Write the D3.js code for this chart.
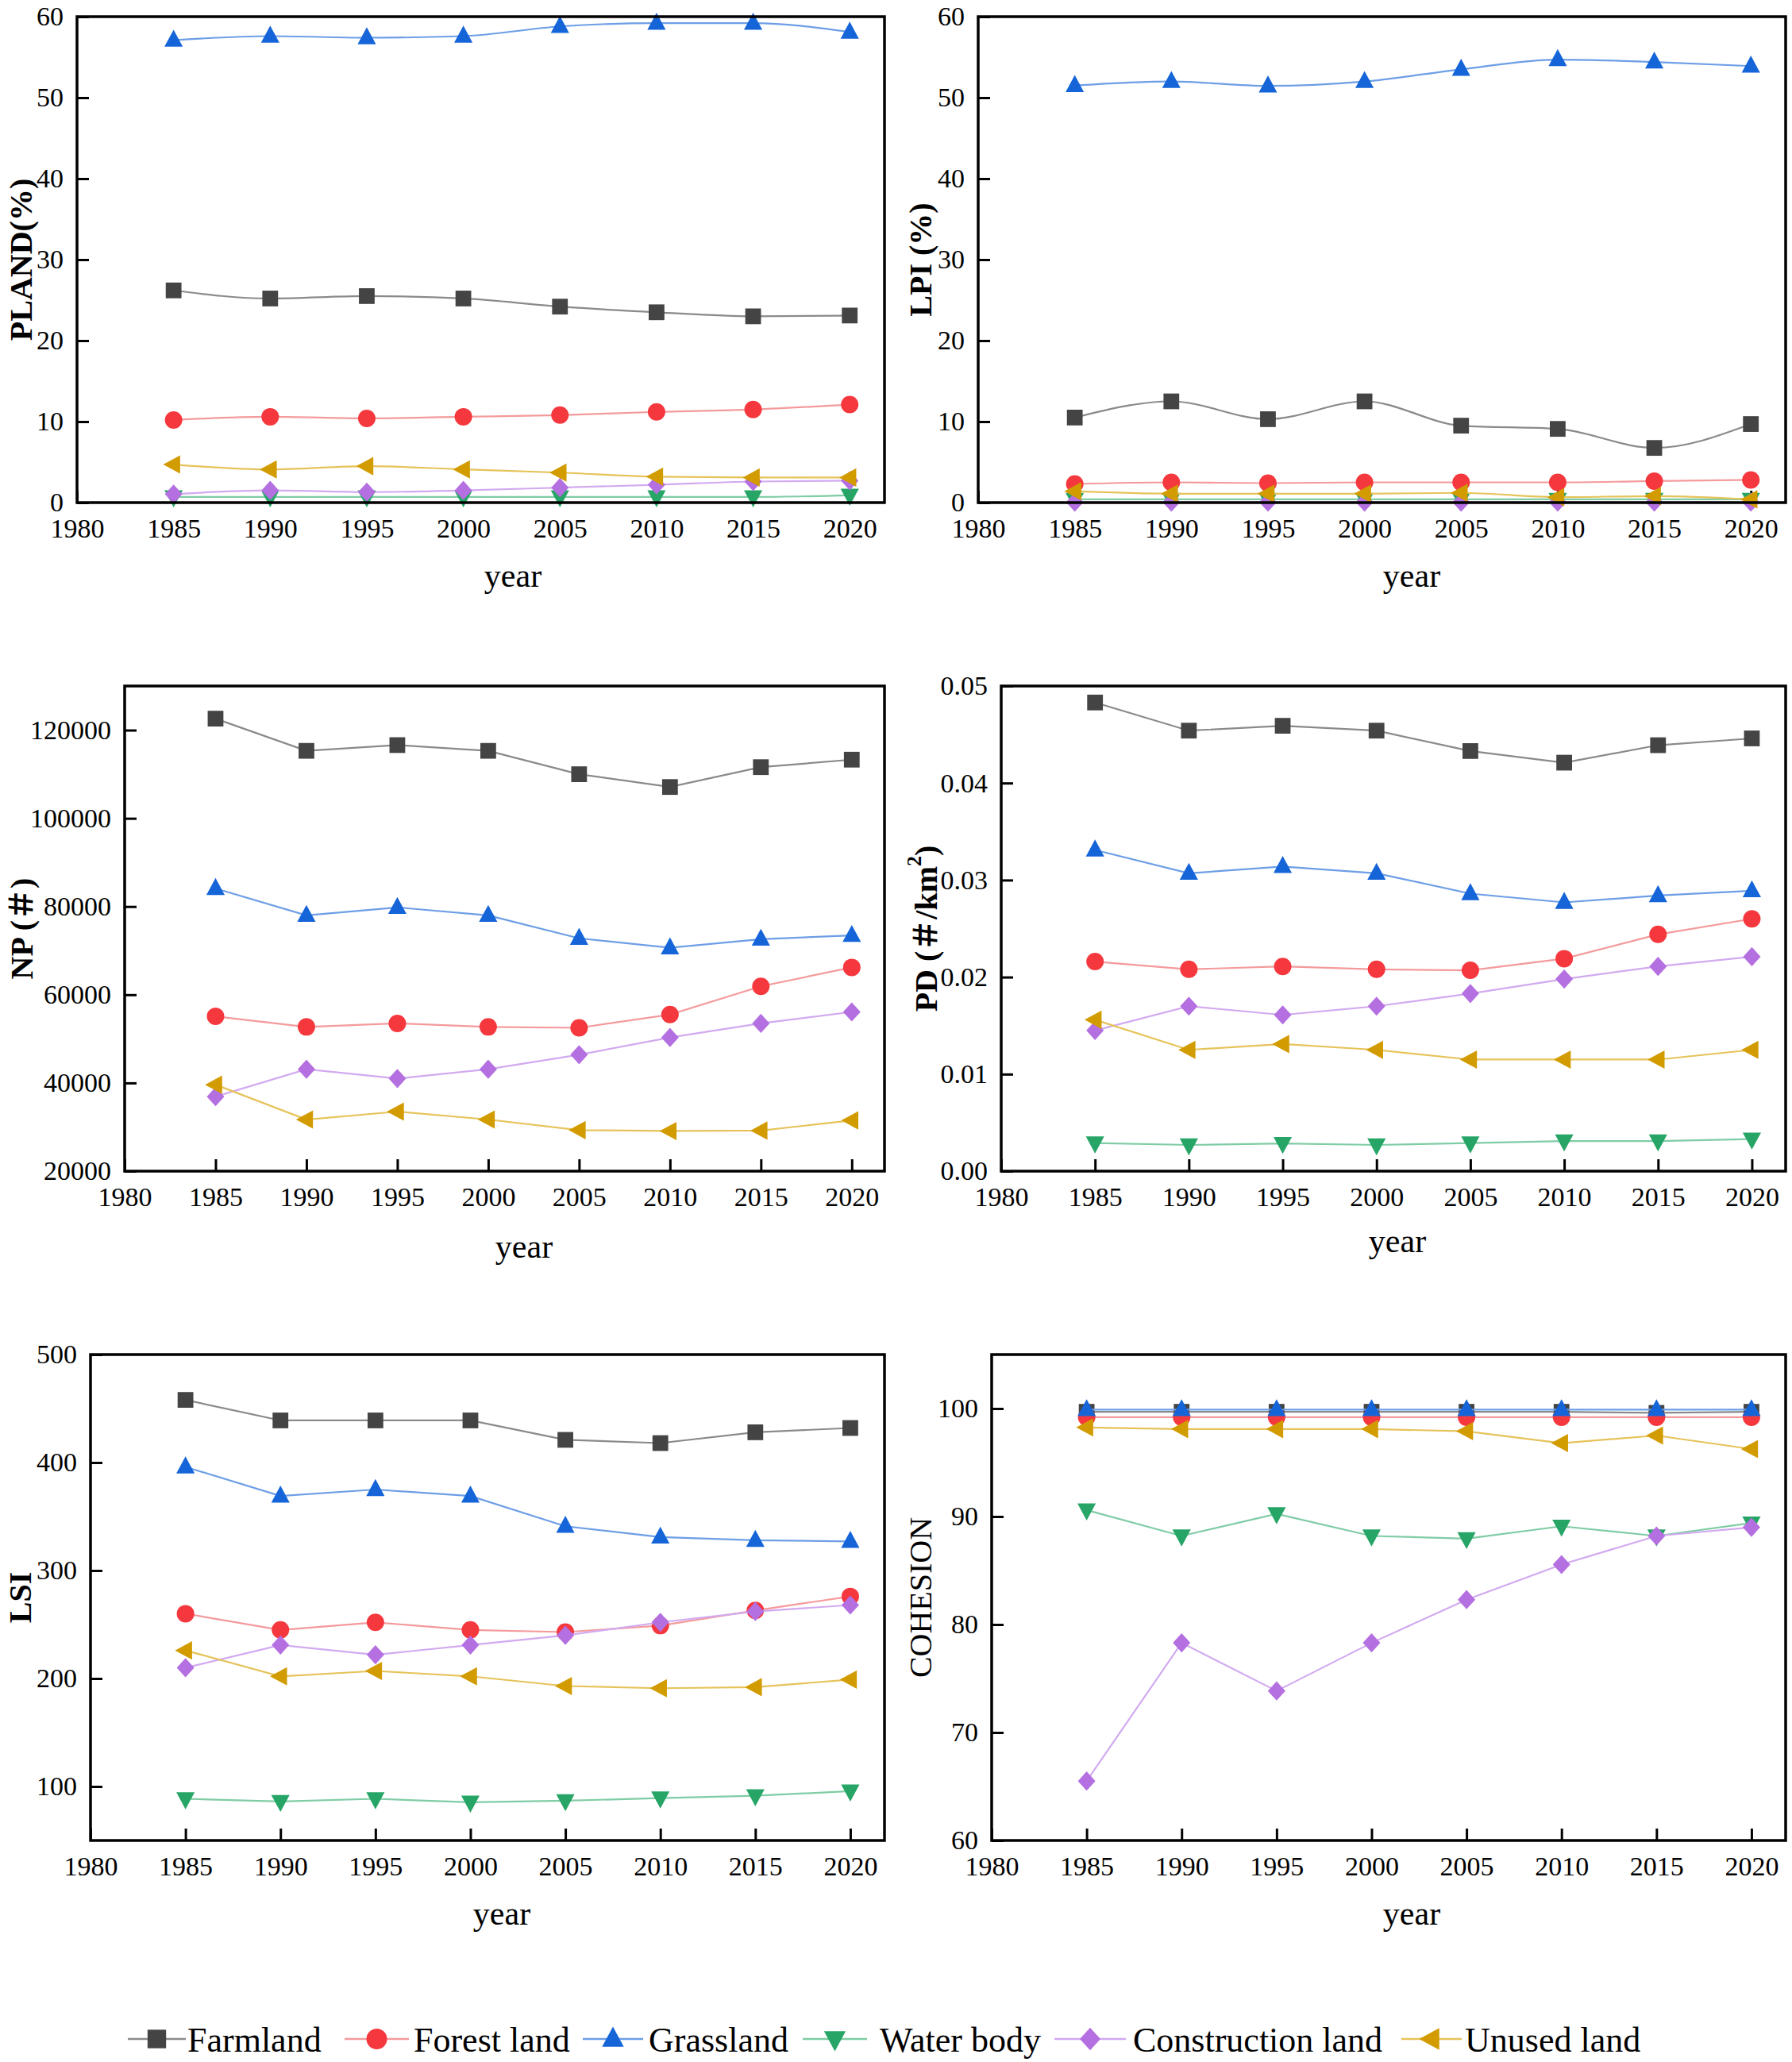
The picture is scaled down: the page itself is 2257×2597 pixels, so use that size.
<!DOCTYPE html>
<html lang="en">
<head>
<meta charset="utf-8">
<script src="https://d3js.org/d3.v7.min.js"></script>
<style>
  body { margin: 0; background: #fff; }
</style>
</head>
<body>
<div id="plot"></div>
<script>
// ---- data ----
const years = [1985, 1990, 1995, 2000, 2005, 2010, 2015, 2020];
const xTickValues = [1980, 1985, 1990, 1995, 2000, 2005, 2010, 2015, 2020];
const landTypes = ["Farmland", "Forest land", "Grassland", "Water body", "Construction land", "Unused land"];

// one row per land type, same order as landTypes (null = not shown)
const plandValues = [
  [26.2, 25.2, 25.5, 25.2, 24.2, 23.5, 23.0, 23.1],
  [10.2, 10.6, 10.4, 10.6, 10.8, 11.2, 11.5, 12.1],
  [57.1, 57.6, 57.4, 57.6, 58.8, 59.2, 59.2, 58.1],
  [0.7, 0.7, 0.7, 0.7, 0.7, 0.7, 0.7, 0.9],
  [1.05, 1.5, 1.3, 1.5, 1.85, 2.2, 2.6, 2.7],
  [4.7, 4.1, 4.5, 4.1, 3.7, 3.2, 3.1, 3.1]
];
const lpiValues = [
  [10.5, 12.5, 10.3, 12.5, 9.5, 9.1, 6.75, 9.7],
  [2.3, 2.5, 2.4, 2.5, 2.5, 2.5, 2.65, 2.8],
  [51.5, 52.0, 51.45, 52.0, 53.5, 54.7, 54.4, 53.9],
  [0.4, 0.4, 0.4, 0.4, 0.4, 0.4, 0.4, 0.4],
  [0.05, 0.05, 0.05, 0.05, 0.05, 0.05, 0.05, 0.05],
  [1.4, 1.1, 1.1, 1.1, 1.2, 0.67, 0.8, 0.4]
];
const npValues = [
  [122600, 115300, 116600, 115300, 110000, 107100, 111600, 113300],
  [55100, 52700, 53500, 52700, 52500, 55500, 61900, 66200],
  [84100, 78000, 79800, 78000, 72800, 70650, 72600, 73450],
  null,
  [36900, 43100, 41000, 43100, 46400, 50300, 53500, 56100],
  [39600, 31700, 33500, 31700, 29300, 29100, 29200, 31500]
];
const pdValues = [
  [0.0483, 0.0454, 0.0459, 0.0454, 0.0433, 0.0421, 0.0439, 0.0446],
  [0.0216, 0.0208, 0.0211, 0.0208, 0.0207, 0.0219, 0.0244, 0.0260],
  [0.0331, 0.0307, 0.0314, 0.0307, 0.0286, 0.0277, 0.0284, 0.0289],
  [0.0029, 0.0027, 0.00285, 0.0027, 0.0029, 0.0031, 0.0031, 0.0033],
  [0.0145, 0.0170, 0.0161, 0.0170, 0.0183, 0.0198, 0.0211, 0.0221],
  [0.0156, 0.0125, 0.0131, 0.0125, 0.0115, 0.0115, 0.0115, 0.0125]
];
const lsiValues = [
  [458, 439, 439, 439, 421, 418, 428, 432],
  [260, 245, 252, 245, 243, 249, 263, 276],
  [396, 369, 375, 369, 341, 331, 328, 327],
  [88.6, 86.1, 88.6, 85.4, 86.8, 89.3, 91.4, 95.7],
  [210, 231, 222, 231, 240, 252, 262, 268],
  [226, 202, 207, 202, 193, 191, 192, 199]
];
const cohesionValues = [
  [99.7, 99.7, 99.7, 99.7, 99.7, 99.7, 99.6, 99.7],
  [99.2, 99.2, 99.2, 99.2, 99.2, 99.2, 99.2, 99.2],
  [99.9, 99.9, 99.9, 99.9, 99.9, 99.9, 99.9, 99.9],
  [90.6, 88.2, 90.25, 88.2, 87.95, 89.1, 88.2, 89.4],
  [65.5, 78.3, 73.85, 78.3, 82.3, 85.55, 88.2, 89.0],
  [98.25, 98.1, 98.1, 98.1, 97.9, 96.8, 97.5, 96.25]
];

// ---- styles ----
const serif = '"Liberation Serif", "Times New Roman", "Noto Sans CJK SC", serif';
const markerColors = ["#444444", "#f5383e", "#1565d9", "#26a566", "#b46fe0", "#d29b00"];
const lineColors   = ["#8a8a8a", "#f49a9c", "#6d9ee6", "#7fcca5", "#d2aaf0", "#e6c35a"];
const shapes = ["square", "circle", "triangleUp", "triangleDown", "diamond", "triangleLeft"];

function symbolPath(shape, r) {
  const p = d3.path();
  if (shape === "square") {
    p.rect(-r * 0.9, -r * 0.9, r * 1.8, r * 1.8);
  } else if (shape === "circle") {
    p.moveTo(r, 0); p.arc(0, 0, r, 0, 2 * Math.PI);
  } else if (shape === "triangleUp") {
    p.moveTo(0, -r * 1.2); p.lineTo(r * 1.05, r * 0.75); p.lineTo(-r * 1.05, r * 0.75); p.closePath();
  } else if (shape === "triangleDown") {
    p.moveTo(0, r * 1.2); p.lineTo(r * 1.05, -r * 0.75); p.lineTo(-r * 1.05, -r * 0.75); p.closePath();
  } else if (shape === "diamond") {
    p.moveTo(0, -r * 1.1); p.lineTo(r, 0); p.lineTo(0, r * 1.1); p.lineTo(-r, 0); p.closePath();
  } else {
    p.moveTo(-r * 1.2, 0); p.lineTo(r * 0.75, -r * 1.05); p.lineTo(r * 0.75, r * 1.05); p.closePath();
  }
  return p.toString();
}

// ---- panel layout ----
const panels = [
  { values: plandValues, title: "PLAND(%)", bold: true, box: [97, 1114, 17, 629],
    yDomain: [0, 60], yTicks: d3.range(0, 61, 10), fmt: d3.format("d"),
    titleX: 26, yearX: 646, yearY: 735, curve: d3.curveMonotoneX },
  { values: lpiValues, title: "LPI (%)", bold: true, box: [1232, 2249, 17, 629],
    yDomain: [0, 60], yTicks: d3.range(0, 61, 10), fmt: d3.format("d"),
    titleX: 1159, yearX: 1778, yearY: 735, curve: d3.curveMonotoneX },
  { values: npValues, title: "NP (＃)", bold: true, box: [157, 1114, 860, 1471],
    yDomain: [20000, 130000], yTicks: d3.range(20000, 120001, 20000), fmt: d3.format("d"),
    titleX: 27, yearX: 660, yearY: 1580, curve: d3.curveLinear },
  { values: pdValues, title: "PD", bold: true, box: [1261, 2249, 860, 1471],
    yDomain: [0, 0.05], yTicks: [0, 0.01, 0.02, 0.03, 0.04, 0.05], fmt: d3.format(".2f"),
    titleX: 1166, yearX: 1760, yearY: 1573, curve: d3.curveLinear },
  { values: lsiValues, title: "LSI", bold: true, box: [114, 1114, 1702, 2314],
    yDomain: [50, 500], yTicks: d3.range(100, 501, 100), fmt: d3.format("d"),
    titleX: 25, yearX: 632, yearY: 2420, curve: d3.curveLinear },
  { values: cohesionValues, title: "COHESION", bold: false, box: [1249, 2249, 1702, 2314],
    yDomain: [60, 105], yTicks: d3.range(60, 101, 10), fmt: d3.format("d"),
    titleX: 1159, yearX: 1778, yearY: 2420, curve: d3.curveLinear }
];

const root = d3.select("#plot").append("svg")
    .attr("width", 2257)
    .attr("height", 2597)
    .style("display", "block")
    .attr("font-family", serif);
// small downward nudge so the topmost tick labels are not clipped
const svg = root.append("g").attr("transform", "translate(0, 4)");

panels.forEach(function (pn) {
  const [x0, x1, y0, y1] = pn.box;
  const x = d3.scaleLinear().domain([1980, 2021.8]).range([x0, x1]);
  const y = d3.scaleLinear().domain(pn.yDomain).range([y1, y0]);

  // x axis, ticks pointing inward
  const xAxis = svg.append("g")
      .attr("transform", `translate(0, ${y1})`)
      .call(d3.axisBottom(x).tickValues(xTickValues).tickFormat(d3.format("d"))
        .tickSizeInner(-15).tickSizeOuter(0).tickPadding(20))
      .call(g => g.select(".domain").remove())
      .attr("font-family", serif);
  xAxis.selectAll("line").attr("stroke", "#000").attr("stroke-width", 3);
  xAxis.selectAll("text").style("font-family", serif).style("font-size", "34px");

  // y axis, ticks pointing inward
  const yAxis = svg.append("g")
      .attr("transform", `translate(${x0}, 0)`)
      .call(d3.axisLeft(y).tickValues(pn.yTicks).tickFormat(pn.fmt)
        .tickSizeInner(-15).tickSizeOuter(0).tickPadding(17))
      .call(g => g.select(".domain").remove())
      .attr("font-family", serif);
  yAxis.selectAll("line").attr("stroke", "#000").attr("stroke-width", 3);
  yAxis.selectAll("text").style("font-family", serif).style("font-size", "34px");

  // series: line then markers, in legend order
  const line = d3.line()
      .x((d, i) => x(years[i]))
      .y(d => y(d))
      .curve(pn.curve);

  pn.values.forEach(function (vals, k) {
    if (!vals) return;
    svg.append("path")
        .attr("d", line(vals))
        .attr("fill", "none")
        .attr("stroke", lineColors[k])
        .attr("stroke-width", 2.2);
    svg.append("g").selectAll("path")
      .data(vals)
      .join("path")
        .attr("transform", (d, i) => `translate(${x(years[i])}, ${y(d)})`)
        .attr("d", symbolPath(shapes[k], 11))
        .attr("fill", markerColors[k]);
  });

  // frame
  svg.append("rect")
      .attr("x", x0).attr("y", y0)
      .attr("width", x1 - x0).attr("height", y1 - y0)
      .attr("fill", "none")
      .attr("stroke", "#000")
      .attr("stroke-width", 3.5);

  // axis titles
  const t = svg.append("text")
      .attr("transform", `translate(${pn.titleX}, ${(y0 + y1) / 2}) rotate(-90)`)
      .attr("text-anchor", "middle")
      .attr("dominant-baseline", "central")
      .style("font-family", serif)
      .style("font-size", "40px")
      .style("font-weight", pn.bold ? "bold" : "normal");
  if (pn.title === "PD") {
    t.append("tspan").text("PD (＃/km");
    t.append("tspan").attr("baseline-shift", "super").style("font-size", "26px").text("2");
    t.append("tspan").text(")");
  } else {
    t.text(pn.title);
  }

  svg.append("text")
      .attr("x", pn.yearX)
      .attr("y", pn.yearY)
      .attr("text-anchor", "middle")
      .style("font-family", serif)
      .style("font-size", "42px")
      .text("year");
});

// ---- legend ----
const legendLineStart = [161, 434, 734, 1011, 1328, 1765];
const legendLineEnd   = [234, 515, 810, 1092, 1418, 1841];
const legendTextX     = [236, 521, 817, 1108, 1427, 1845];
const legendY = 2564;
const legend = svg.append("g").selectAll("g")
  .data(landTypes)
  .join("g");

legend.append("line")
    .attr("x1", (d, i) => legendLineStart[i])
    .attr("x2", (d, i) => legendLineEnd[i])
    .attr("y1", legendY).attr("y2", legendY)
    .attr("stroke", (d, i) => lineColors[i])
    .attr("stroke-width", 2.5);
legend.append("path")
    .attr("transform", (d, i) => `translate(${(legendLineStart[i] + legendLineEnd[i]) / 2}, ${legendY})`)
    .attr("d", (d, i) => symbolPath(shapes[i], 13))
    .attr("fill", (d, i) => markerColors[i]);
legend.append("text")
    .attr("x", (d, i) => legendTextX[i])
    .attr("y", legendY + 16)
    .style("font-family", serif)
    .style("font-size", "44px")
    .text(d => d);
</script>
</body>
</html>
